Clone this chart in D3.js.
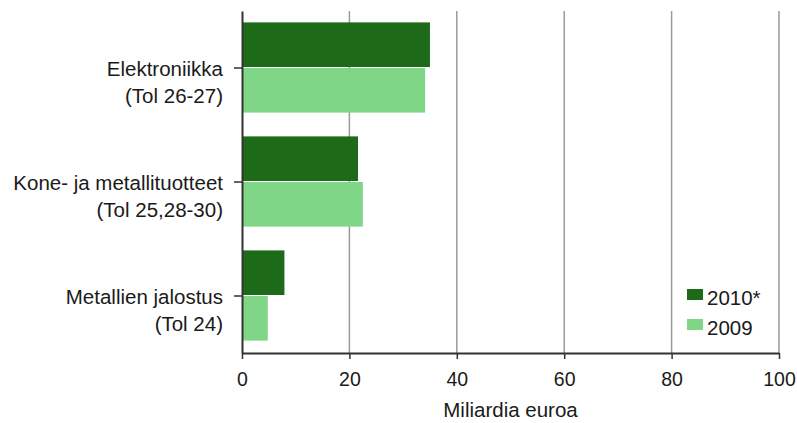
<!DOCTYPE html>
<html>
<head>
<meta charset="utf-8">
<style>
  body { margin: 0; background: #fff; }
  text { font-family: "Liberation Sans", Arial, sans-serif; fill: #1a1a1a; }
</style>
</head>
<body>
<svg id="chart" width="797" height="423"></svg>
<script src="https://cdn.jsdelivr.net/npm/d3@7"></script>
<script>
// data
const categories = [
  ["Elektroniikka", "(Tol 26-27)"],
  ["Kone- ja metallituotteet", "(Tol 25,28-30)"],
  ["Metallien jalostus", "(Tol 24)"]
];
const series = ["2010*", "2009"];
const values2010 = [35.0, 21.6, 7.9];
const values2009 = [34.1, 22.5, 4.8];
const xTicks = [0, 20, 40, 60, 80, 100];
const xTitle = "Miliardia euroa";

const colors = ["#1d6b19", "#7fd686"];

const svg = d3.select("#chart");
const plotLeft = 242, plotRight = 779, plotTop = 11, plotBottom = 353;

const x = d3.scaleLinear().domain([0, 100]).range([plotLeft, plotRight]);
const y = d3.scaleBand().domain(d3.range(categories.length))
  .range([plotTop, plotBottom]).paddingInner(0.2).paddingOuter(0.1);
const sub = d3.scaleBand().domain(series).range([0, y.bandwidth()]);

// gridlines
svg.append("g").selectAll("line")
  .data(xTicks.slice(1))
  .join("line")
  .attr("x1", d => x(d)).attr("x2", d => x(d))
  .attr("y1", plotTop).attr("y2", plotBottom)
  .attr("stroke", "#9a9a9a").attr("stroke-width", 1.5);

// bars
const rows = categories.map((c, i) => [
  { s: series[0], v: values2010[i], i: i, c: 0 },
  { s: series[1], v: values2009[i], i: i, c: 1 }
]).flat();

svg.append("g").selectAll("rect")
  .data(rows)
  .join("rect")
  .attr("x", x(0))
  .attr("y", d => y(d.i) + sub(d.s))
  .attr("width", d => x(d.v) - x(0))
  .attr("height", sub.bandwidth() - 1)
  .attr("fill", d => colors[d.c]);

// x axis
const xAxis = svg.append("g")
  .attr("transform", `translate(0,${plotBottom})`)
  .call(d3.axisBottom(x).tickValues(xTicks).tickSize(6).tickPadding(13).tickSizeOuter(0));
xAxis.select(".domain").attr("stroke", "#333").attr("stroke-width", 2);
xAxis.selectAll(".tick line").attr("stroke", "#333").attr("stroke-width", 1.5);
xAxis.selectAll(".tick text")
  .attr("font-size", 19.5).attr("fill", "#1a1a1a")
  .style("font-family", "'Liberation Sans', Arial, sans-serif");

// y axis
const yAxis = svg.append("g")
  .attr("transform", `translate(${plotLeft},0)`)
  .call(d3.axisLeft(y).tickSize(8).tickSizeOuter(0).tickFormat(""));
yAxis.select(".domain").attr("stroke", "#333").attr("stroke-width", 2);
yAxis.selectAll(".tick line").attr("stroke", "#333").attr("stroke-width", 1.5);

// category labels
const labels = svg.append("g").selectAll("text")
  .data(categories)
  .join("text")
  .attr("text-anchor", "end")
  .attr("font-size", 20.5)
  .attr("y", (d, i) => y(i) + y.bandwidth() / 2 + 8);
labels.selectAll("tspan")
  .data(d => d)
  .join("tspan")
  .attr("x", 223)
  .attr("dy", (d, j) => j === 0 ? 0 : 27)
  .text(d => d);

// axis title
svg.append("text")
  .attr("x", (plotLeft + plotRight) / 2)
  .attr("y", 417)
  .attr("text-anchor", "middle")
  .attr("font-size", 20.5)
  .text(xTitle);

// legend
const legend = svg.append("g").attr("transform", "translate(687,289)");
const li = legend.selectAll("g").data(series).join("g")
  .attr("transform", (d, i) => `translate(0,${i * 30})`);
li.append("rect").attr("width", 16).attr("height", 11)
  .attr("fill", (d, i) => colors[i]);
li.append("text").attr("x", 20).attr("y", 16)
  .attr("font-size", 20.5).text(d => d);
</script>
</body>
</html>
